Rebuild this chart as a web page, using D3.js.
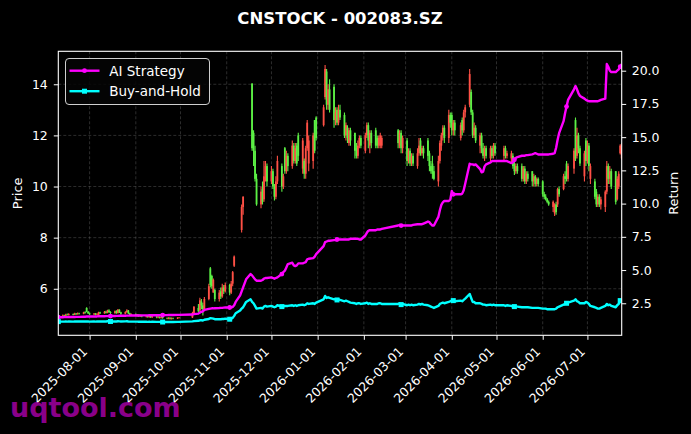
<!DOCTYPE html>
<html>
<head>
<meta charset="utf-8">
<script src="https://cdnjs.cloudflare.com/ajax/libs/d3/7.8.5/d3.min.js"></script>
<style>
  body { margin: 0; background: #000; }
  svg { display: block; font-family: "DejaVu Sans", sans-serif; }
</style>
</head>
<body>
<div id="chart"></div>
<script>
// ---- data ----
const title = "CNSTOCK - 002083.SZ";
const firstDay = "2025-07-11", lastDay = "2026-07-24";
// exchange holidays (weekdays without trading)
const holidays = ["2025-10-01","2025-10-02","2025-10-03","2025-10-06","2025-10-07","2025-10-08",
  "2026-01-01","2026-01-02","2026-02-16","2026-02-17","2026-02-18","2026-02-19","2026-02-20",
  "2026-02-23","2026-04-06","2026-05-01","2026-05-04","2026-05-05","2026-06-19"];

const open = [
  4.95,4.92,4.96,4.94,4.99,4.97,5.01,4.98,5.03,5.00,5.04,5.02,5.08,5.25,5.10,5.04,          // Jul
  5.00,5.03,4.99,4.95,5.08,5.04,5.10,5.06,5.15,5.09,5.05,5.12,5.05,5.18,5.08,5.02,5.09,5.15,5.04,4.98, // Aug
  5.01,4.96,4.99,4.93,4.97,4.92,4.95,4.90,4.94,4.89,4.92,4.88,4.91,4.87,4.90,4.86,4.84,4.87,4.83,4.86,4.84,4.87, // Sep
  4.88,5.05,5.25,5.15,5.50,5.35,5.20,5.60,6.80,6.50,5.85,5.95,5.60,5.90,5.70,6.05,5.90,  // Oct
  6.15,5.85,6.20,6.90,7.99,8.79,8.30,9.20,10.56,11.62,12.78,14.02,12.10,11.40,10.30,9.30,9.90,9.50,10.40,10.80, // Nov
  10.20,10.60,10.00,9.60,10.20,10.80,10.00,11.50,10.60,11.20,10.80,11.60,11.00,11.60,12.00,10.70,11.00,10.50,11.50,10.90,11.00,12.60,12.70, // Dec
  12.40,13.50,14.50,13.20,13.80,13.90,12.60,13.00,12.50,13.00,12.80,12.00,12.30,11.70,12.20,12.10,11.50,11.20,11.60,11.90, // Jan
  11.40,12.00,12.40,11.60,12.10,12.20,11.90,11.60,11.60,11.60,12.20,11.60,12.10,11.50,  // Feb
  11.80,11.00,11.40,10.90,11.20,10.80,11.30,11.80,11.30,11.50,11.80,11.30,10.80,10.90,10.60,10.20,11.00,11.60,12.00,12.30,11.90,12.80, // Mar
  12.80,12.20,12.50,11.90,12.60,12.20,12.90,13.20,13.70,12.90,12.00,12.30,11.60,12.00,11.50,11.20,11.50,11.10,11.50,11.20,11.60, // Apr
  11.20,11.50,11.20,11.10,11.20,10.90,10.60,10.80,10.80,10.30,10.70,10.20,10.50,10.60,10.20,10.40,10.10,10.30, // May
  10.20,9.70,9.60,9.50,9.40,9.20,8.95,9.30,9.30,9.90,9.90,10.40,10.90,10.30,10.70,12.60,11.20,12.00,11.50,10.40,11.80, // Jun
  11.00,11.60,10.30,10.20,9.80,9.30,9.60,9.30,9.20,9.80,10.80,10.30,10.60,10.60,9.50,10.00,11.30,11.10 // Jul
];
const high = [
  4.98,4.99,4.98,5.02,5.03,5.04,5.03,5.06,5.05,5.07,5.06,5.10,5.12,5.28,5.13,5.07,
  5.05,5.05,5.04,5.10,5.10,5.13,5.14,5.18,5.20,5.12,5.15,5.16,5.21,5.20,5.10,5.12,5.20,5.17,5.06,5.03,
  5.03,5.01,5.00,4.99,4.98,4.97,4.96,4.96,4.95,4.94,4.93,4.93,4.92,4.92,4.91,4.88,4.89,4.88,4.88,4.87,4.89,4.90,
  5.10,5.32,5.40,5.65,5.60,5.45,5.68,6.20,6.85,6.55,6.40,6.00,5.95,6.05,6.20,6.15,6.25,
  6.20,6.30,6.70,7.30,7.99,8.79,9.30,9.62,10.56,11.62,12.78,14.05,12.20,11.60,10.50,10.00,10.20,11.00,11.00,10.90,
  10.80,10.70,10.10,10.40,11.20,10.90,10.50,11.55,11.40,11.30,11.80,11.70,11.70,11.70,12.10,11.90,11.10,11.60,12.60,12.00,12.10,12.60,12.75,
  13.20,14.75,14.60,14.00,14.20,14.00,13.10,13.10,13.20,13.20,12.90,12.50,12.40,12.30,12.30,12.10,11.70,11.80,12.00,12.00,
  12.10,12.50,12.50,12.20,12.20,12.30,12.00,12.00,12.10,12.00,12.25,12.20,12.20,12.00,
  11.90,11.50,11.50,11.30,11.30,11.50,11.90,11.90,11.60,11.60,11.90,11.40,11.00,11.20,10.80,11.20,11.80,12.10,12.40,12.40,13.00,12.90,
  12.90,12.60,12.60,12.50,12.70,13.00,13.20,14.60,13.80,13.00,12.50,12.40,12.10,12.10,11.70,11.60,11.60,11.60,11.60,11.70,11.70,
  11.60,11.60,11.40,11.40,11.30,11.00,10.90,10.90,10.90,10.80,10.80,10.60,10.60,10.60,10.50,10.45,10.35,10.35,
  10.25,9.80,9.70,9.55,9.45,9.45,9.35,9.40,9.95,10.00,10.50,10.60,11.00,10.90,11.50,12.70,12.30,12.10,11.60,11.40,11.90,
  11.80,11.70,10.90,10.30,9.90,9.70,9.70,9.60,9.85,11.00,10.90,10.80,10.70,10.60,10.40,10.60,11.65,11.70
];
const low = [
  4.88,4.90,4.91,4.92,4.95,4.95,4.96,4.97,4.98,4.99,4.99,5.00,5.03,5.08,5.01,4.97,
  4.97,4.96,4.96,4.92,5.01,5.02,5.03,5.04,5.06,5.00,5.02,5.02,5.03,5.05,4.98,5.00,5.06,5.01,4.95,4.94,
  4.93,4.92,4.90,4.90,4.89,4.88,4.87,4.87,4.86,4.86,4.85,4.85,4.84,4.84,4.83,4.81,4.81,4.80,4.80,4.81,4.82,4.84,
  4.86,5.00,5.08,5.10,5.20,4.95,5.15,5.55,6.05,6.00,5.85,5.50,5.50,5.60,5.65,5.80,5.85,
  5.75,5.80,6.10,6.85,7.99,8.79,8.20,8.90,10.56,11.62,12.78,11.40,10.80,10.20,9.25,9.15,9.30,9.40,10.20,10.00,
  10.10,9.90,9.45,9.50,10.10,9.80,9.90,10.50,10.50,10.60,10.70,10.90,10.90,10.80,11.00,10.50,10.30,10.30,11.40,10.60,10.70,11.30,11.80,
  12.35,13.40,13.00,13.00,12.90,12.30,12.40,12.40,12.40,12.60,11.90,11.80,11.70,11.60,11.60,11.10,11.10,11.10,11.50,11.50,
  11.30,11.90,11.50,11.30,11.50,11.50,11.50,11.50,11.50,11.50,11.50,11.50,11.30,11.30,
  10.80,10.90,10.80,10.80,10.80,10.70,11.20,11.20,11.20,11.10,11.00,10.60,10.50,10.30,10.25,10.00,10.90,11.40,11.80,11.70,11.70,12.30,
  12.00,12.00,12.00,11.80,12.00,12.10,12.70,13.10,12.80,11.90,11.90,11.70,11.30,11.30,11.10,11.00,11.10,11.00,11.10,11.10,11.20,
  11.00,11.10,11.10,10.90,10.70,10.45,10.50,10.50,10.20,10.20,10.10,10.10,10.20,10.00,10.00,10.00,10.00,10.00,
  9.60,9.50,9.45,9.35,9.25,9.00,8.85,8.90,9.20,9.60,9.85,10.10,10.20,10.20,10.50,11.00,11.10,11.30,10.80,10.20,10.80,
  10.90,10.60,10.10,9.50,9.20,9.20,9.20,9.10,9.00,9.70,10.10,10.10,9.90,9.30,9.45,9.90,11.25,11.05
];
const close = [
  4.92,4.96,4.94,4.99,4.97,5.01,4.98,5.03,5.00,5.04,5.02,5.08,5.05,5.10,5.04,5.00,
  5.03,4.99,5.02,5.08,5.04,5.10,5.06,5.15,5.09,5.05,5.12,5.05,5.18,5.08,5.02,5.09,5.15,5.04,4.98,5.01,
  4.96,4.99,4.93,4.97,4.92,4.95,4.90,4.94,4.89,4.92,4.88,4.91,4.87,4.90,4.86,4.84,4.87,4.83,4.86,4.84,4.87,4.88,
  5.05,5.30,5.12,5.55,5.35,5.20,5.60,6.10,6.15,6.10,6.35,5.60,5.85,5.70,6.05,5.90,6.15,
  5.85,6.20,6.65,7.26,7.99,8.79,9.20,9.60,10.56,11.62,12.78,11.50,11.40,10.30,9.30,9.80,9.40,10.40,10.80,10.20,
  10.60,10.00,9.60,10.20,11.00,10.00,10.40,10.60,11.20,10.80,11.60,11.00,11.50,10.90,11.20,11.80,10.50,11.50,12.50,11.80,12.00,11.40,11.90,
  13.10,14.60,13.20,13.80,13.00,12.60,12.90,12.50,13.00,12.70,12.00,12.40,11.90,12.20,11.80,11.40,11.20,11.60,11.90,11.60,
  12.00,12.40,11.80,12.10,11.70,11.60,11.60,11.90,12.00,11.90,11.70,12.10,11.50,11.90,
  11.00,11.40,10.90,11.20,10.90,11.30,11.60,11.30,11.50,11.30,11.20,10.80,10.60,10.50,10.30,11.00,11.70,12.00,12.30,11.90,12.80,12.50,
  12.20,12.50,12.20,12.40,12.20,12.90,13.10,14.40,12.90,12.00,12.30,11.80,12.00,11.50,11.20,11.50,11.20,11.50,11.20,11.60,11.30,
  11.50,11.20,11.30,11.30,10.80,10.60,10.80,10.60,10.30,10.70,10.20,10.50,10.30,10.20,10.40,10.10,10.30,10.10,
  9.70,9.60,9.50,9.40,9.30,9.40,9.30,9.00,9.90,9.70,10.40,10.30,10.30,10.80,11.40,11.10,12.00,11.50,10.90,11.30,11.00,
  11.60,10.80,10.80,9.60,9.30,9.60,9.30,9.50,9.80,10.80,10.30,10.60,10.00,9.40,10.30,10.50,11.60,11.50
];
// cumulative return, right axis
const aiReturn = [
  1.45,1.45,1.46,1.46,1.46,1.47,1.47,1.47,1.48,1.48,1.48,1.49,1.49,1.50,1.50,1.50,
  1.50,1.51,1.51,1.52,1.52,1.52,1.53,1.53,1.54,1.54,1.54,1.55,1.55,1.56,1.56,1.56,1.57,1.57,1.57,1.58,
  1.58,1.58,1.58,1.59,1.59,1.59,1.59,1.60,1.60,1.60,1.60,1.60,1.61,1.61,1.61,1.61,1.62,1.62,1.62,1.62,1.63,1.63,
  1.65,1.68,1.72,1.80,1.86,1.90,2.00,2.08,2.10,2.12,2.12,2.13,2.14,2.15,2.15,2.17,2.18,
  2.18,2.20,2.22,2.35,2.60,3.10,3.40,3.70,4.00,4.30,4.70,4.60,4.45,4.30,4.20,4.20,4.25,4.35,4.40,4.40,
  4.45,4.40,4.35,4.40,4.45,4.70,4.85,4.95,5.20,5.45,5.55,5.35,5.30,5.35,5.50,5.50,5.55,5.60,5.80,5.85,5.90,6.00,6.20,
  6.80,7.10,7.15,7.20,7.20,7.25,7.25,7.30,7.30,7.30,7.30,7.30,7.30,7.30,7.35,7.35,7.35,7.35,7.30,7.30,
  7.60,7.80,7.95,8.00,8.00,8.00,8.05,8.05,8.05,8.10,8.35,8.40,8.35,8.35,
  8.35,8.35,8.35,8.35,8.40,8.45,8.45,8.45,8.45,8.50,8.65,8.60,8.45,8.35,8.35,9.00,9.50,9.90,10.10,10.20,10.20,10.30,
  10.95,10.70,10.70,10.70,10.75,11.00,11.50,13.00,12.95,12.95,12.90,12.95,12.60,12.35,12.40,12.80,12.95,13.10,13.20,13.20,13.20,
  13.20,13.20,13.20,13.05,13.10,13.30,13.45,13.50,13.60,13.60,13.60,13.65,13.65,13.70,13.75,13.80,13.75,13.70,
  13.70,13.70,13.70,13.70,13.70,13.75,13.80,14.20,14.80,15.30,16.20,16.80,17.30,17.80,18.60,18.85,18.60,18.30,18.10,17.90,17.80,
  17.75,17.70,17.70,17.70,17.70,17.70,17.75,17.80,17.90,20.50,20.30,20.00,19.90,19.90,20.00,20.10,20.30,20.50
];
const bhReturn = [
  1.12,1.12,1.12,1.13,1.12,1.13,1.12,1.13,1.13,1.13,1.13,1.14,1.13,1.14,1.13,1.12,
  1.13,1.12,1.13,1.14,1.13,1.14,1.13,1.15,1.14,1.13,1.14,1.13,1.15,1.14,1.13,1.14,1.15,1.13,1.12,1.12,
  1.12,1.12,1.11,1.12,1.11,1.11,1.10,1.11,1.10,1.11,1.10,1.10,1.10,1.10,1.09,1.09,1.10,1.09,1.09,1.09,1.10,1.10,
  1.14,1.16,1.18,1.22,1.22,1.20,1.26,1.32,1.38,1.36,1.34,1.30,1.30,1.30,1.32,1.32,1.34,
  1.30,1.34,1.40,1.55,1.75,1.95,2.10,2.20,2.40,2.60,2.80,2.60,2.50,2.30,2.10,2.15,2.10,2.25,2.30,2.25,
  2.30,2.25,2.20,2.25,2.35,2.25,2.25,2.30,2.30,2.30,2.35,2.30,2.35,2.30,2.35,2.40,2.35,2.40,2.50,2.45,2.50,2.45,2.55,
  2.80,3.05,2.90,2.95,2.90,2.80,2.80,2.75,2.80,2.75,2.65,2.70,2.65,2.60,2.55,2.50,2.45,2.50,2.50,2.45,
  2.50,2.55,2.45,2.50,2.45,2.45,2.45,2.50,2.50,2.45,2.45,2.50,2.40,2.45,
  2.35,2.40,2.35,2.40,2.35,2.40,2.45,2.40,2.45,2.40,2.35,2.30,2.25,2.20,2.15,2.30,2.45,2.50,2.55,2.50,2.60,2.65,
  2.70,2.70,2.65,2.70,2.65,2.75,2.85,3.20,2.90,2.60,2.60,2.50,2.50,2.45,2.40,2.40,2.35,2.40,2.35,2.40,2.35,
  2.35,2.30,2.35,2.30,2.25,2.25,2.25,2.25,2.20,2.20,2.20,2.20,2.20,2.15,2.15,2.15,2.15,2.15,
  2.10,2.10,2.10,2.05,2.05,2.05,2.05,2.10,2.20,2.25,2.40,2.45,2.50,2.55,2.70,2.80,2.65,2.60,2.50,2.50,2.60,
  2.55,2.45,2.30,2.20,2.15,2.10,2.10,2.15,2.30,2.45,2.35,2.40,2.30,2.20,2.35,2.45,2.70,2.80
];
const priceTicks = [6, 8, 10, 12, 14];
const returnTicks = [2.5, 5, 7.5, 10, 12.5, 15, 17.5, 20];
const seriesNames = ["AI Strategy", "Buy-and-Hold"];
const markEvery = 25;

// ---- layout ----
const W = 691, H = 434;
const plot = { left: 58.3, right: 621.7, top: 51.3, bottom: 335.3 };

const parse = d3.utcParse("%Y-%m-%d");
const fmt = d3.utcFormat("%Y-%m-%d");
const days = d3.utcDays(parse(firstDay), d3.utcDay.offset(parse(lastDay), 1))
  .filter(d => d.getUTCDay() % 6 !== 0 && !holidays.includes(fmt(d)));

const x = d3.scaleUtc().domain([days[0], days[days.length - 1]]).range([plot.left, plot.right]);
const yP = d3.scaleLinear().domain([4.18, 15.29]).range([plot.bottom, plot.top]);
const yR = d3.scaleLinear().domain([0.09, 21.46]).range([plot.bottom, plot.top]);
const monthTicks = d3.utcMonth.range(parse("2025-08-01"), parse("2026-07-02"));

const svg = d3.select("#chart").append("svg")
  .attr("width", W).attr("height", H)
  .attr("viewBox", `0 0 ${W} ${H}`);

svg.append("rect").attr("width", W).attr("height", H).attr("fill", "#000");

svg.append("clipPath").attr("id", "clip")
  .append("rect")
  .attr("x", plot.left).attr("y", plot.top)
  .attr("width", plot.right - plot.left).attr("height", plot.bottom - plot.top);

// grid
const grid = svg.append("g")
  .attr("stroke", "#7a7a7a").attr("stroke-opacity", 0.6)
  .attr("stroke-width", 0.6).attr("stroke-dasharray", "3,2");
grid.selectAll(".gx").data(monthTicks).enter().append("line")
  .attr("x1", d => x(d)).attr("x2", d => x(d))
  .attr("y1", plot.top).attr("y2", plot.bottom);
grid.selectAll(".gy").data(priceTicks).enter().append("line")
  .attr("x1", plot.left).attr("x2", plot.right)
  .attr("y1", d => yP(d)).attr("y2", d => yP(d));

// candles (red = up, green = down)
const up = "#ff5045", down = "#5cf045";
const candles = svg.append("g").attr("clip-path", "url(#clip)")
  .selectAll("g").data(days).enter().append("g");
candles.append("line")
  .attr("x1", d => x(d)).attr("x2", d => x(d))
  .attr("y1", (d, i) => yP(high[i])).attr("y2", (d, i) => yP(low[i]))
  .attr("stroke", (d, i) => close[i] >= open[i] ? up : down)
  .attr("stroke-width", 1.1);
candles.append("rect")
  .attr("x", d => x(d) - 0.9).attr("width", 1.8)
  .attr("y", (d, i) => yP(Math.max(open[i], close[i])))
  .attr("height", (d, i) => Math.abs(yP(open[i]) - yP(close[i])))
  .attr("fill", (d, i) => close[i] >= open[i] ? up : down);

// return lines
const colors = ["#ff00ff", "#00ffff"];
const series = [aiReturn, bhReturn];
const lineGen = d3.line().x((d, i) => x(days[i])).y(d => yR(d));
const lines = svg.append("g").attr("clip-path", "url(#clip)");
series.forEach((s, k) => {
  lines.append("path").datum(s)
    .attr("d", lineGen).attr("fill", "none")
    .attr("stroke", colors[k]).attr("stroke-width", 2.4)
    .attr("stroke-linejoin", "round");
  const marks = s.map((v, i) => ({ v, i })).filter(d => d.i % markEvery === 0);
  if (k === 0) {
    lines.selectAll(".mc").data(marks).enter().append("circle")
      .attr("cx", d => x(days[d.i])).attr("cy", d => yR(d.v)).attr("r", 2.4)
      .attr("fill", colors[k]);
  } else {
    lines.selectAll(".ms").data(marks).enter().append("rect")
      .attr("x", d => x(days[d.i]) - 2.5).attr("y", d => yR(d.v) - 2.5)
      .attr("width", 5).attr("height", 5).attr("fill", colors[k]);
  }
});

// axes
function styleAxis(g) {
  g.select(".domain").remove();
  g.selectAll(".tick line").attr("stroke", "#fff");
  g.selectAll(".tick text").attr("fill", "#fff").attr("font-size", 12.5)
    .attr("font-family", "DejaVu Sans");
}
svg.append("g").attr("transform", `translate(${plot.left},0)`)
  .call(d3.axisLeft(yP).tickValues(priceTicks).tickSize(4.5).tickPadding(6).tickFormat(d3.format("d")))
  .call(styleAxis);
svg.append("g").attr("transform", `translate(${plot.right},0)`)
  .call(d3.axisRight(yR).tickValues(returnTicks).tickSize(4.5).tickPadding(5.5).tickFormat(d3.format(".1f")))
  .call(styleAxis);
const xAxis = svg.append("g").attr("transform", `translate(0,${plot.bottom})`)
  .call(d3.axisBottom(x).tickValues(monthTicks).tickSize(4.5).tickFormat(fmt))
  .call(styleAxis);
xAxis.selectAll(".tick text")
  .attr("x", 0).attr("y", 0).attr("dy", null)
  .attr("text-anchor", "end")
  .attr("transform", "translate(-2,17) rotate(-45)");

// frame
svg.append("rect")
  .attr("x", plot.left).attr("y", plot.top)
  .attr("width", plot.right - plot.left).attr("height", plot.bottom - plot.top)
  .attr("fill", "none").attr("stroke", "#fff").attr("stroke-width", 1.1);

// axis labels and title
svg.append("text").attr("transform", `translate(17,${(plot.top + plot.bottom) / 2}) rotate(-90)`)
  .attr("text-anchor", "middle").attr("dominant-baseline", "central")
  .attr("fill", "#fff").attr("font-size", 13).text("Price");
svg.append("text").attr("transform", `translate(673,${(plot.top + plot.bottom) / 2}) rotate(-90)`)
  .attr("text-anchor", "middle").attr("dominant-baseline", "central")
  .attr("fill", "#fff").attr("font-size", 13).text("Return");
svg.append("text").attr("x", (plot.left + plot.right) / 2).attr("y", 18)
  .attr("text-anchor", "middle").attr("dominant-baseline", "central")
  .attr("fill", "#fff").attr("font-size", 16.5).attr("font-weight", "bold").text(title);

// legend
const legend = svg.append("g");
legend.append("rect").attr("x", 65.5).attr("y", 58.5).attr("width", 144).attr("height", 46)
  .attr("rx", 3.5).attr("fill", "#050505").attr("fill-opacity", 0.85)
  .attr("stroke", "#cfcfcf").attr("stroke-width", 1);
seriesNames.forEach((name, k) => {
  const ly = 70.7 + k * 20.5;
  legend.append("line").attr("x1", 69.5).attr("x2", 99.5).attr("y1", ly).attr("y2", ly)
    .attr("stroke", colors[k]).attr("stroke-width", 2.4);
  if (k === 0) {
    legend.append("circle").attr("cx", 84.5).attr("cy", ly).attr("r", 2.4).attr("fill", colors[k]);
  } else {
    legend.append("rect").attr("x", 82).attr("y", ly - 2.5).attr("width", 5).attr("height", 5).attr("fill", colors[k]);
  }
  legend.append("text").attr("x", 109.3).attr("y", ly).attr("dominant-baseline", "central")
    .attr("fill", "#fff").attr("font-size", 13.5).text(name);
});

// watermark
svg.append("text").attr("x", 10).attr("y", 417)
  .attr("fill", "#b000b0").attr("fill-opacity", 0.8)
  .attr("font-size", 27).attr("font-weight", "bold").text("uqtool.com");
</script>
</body>
</html>
